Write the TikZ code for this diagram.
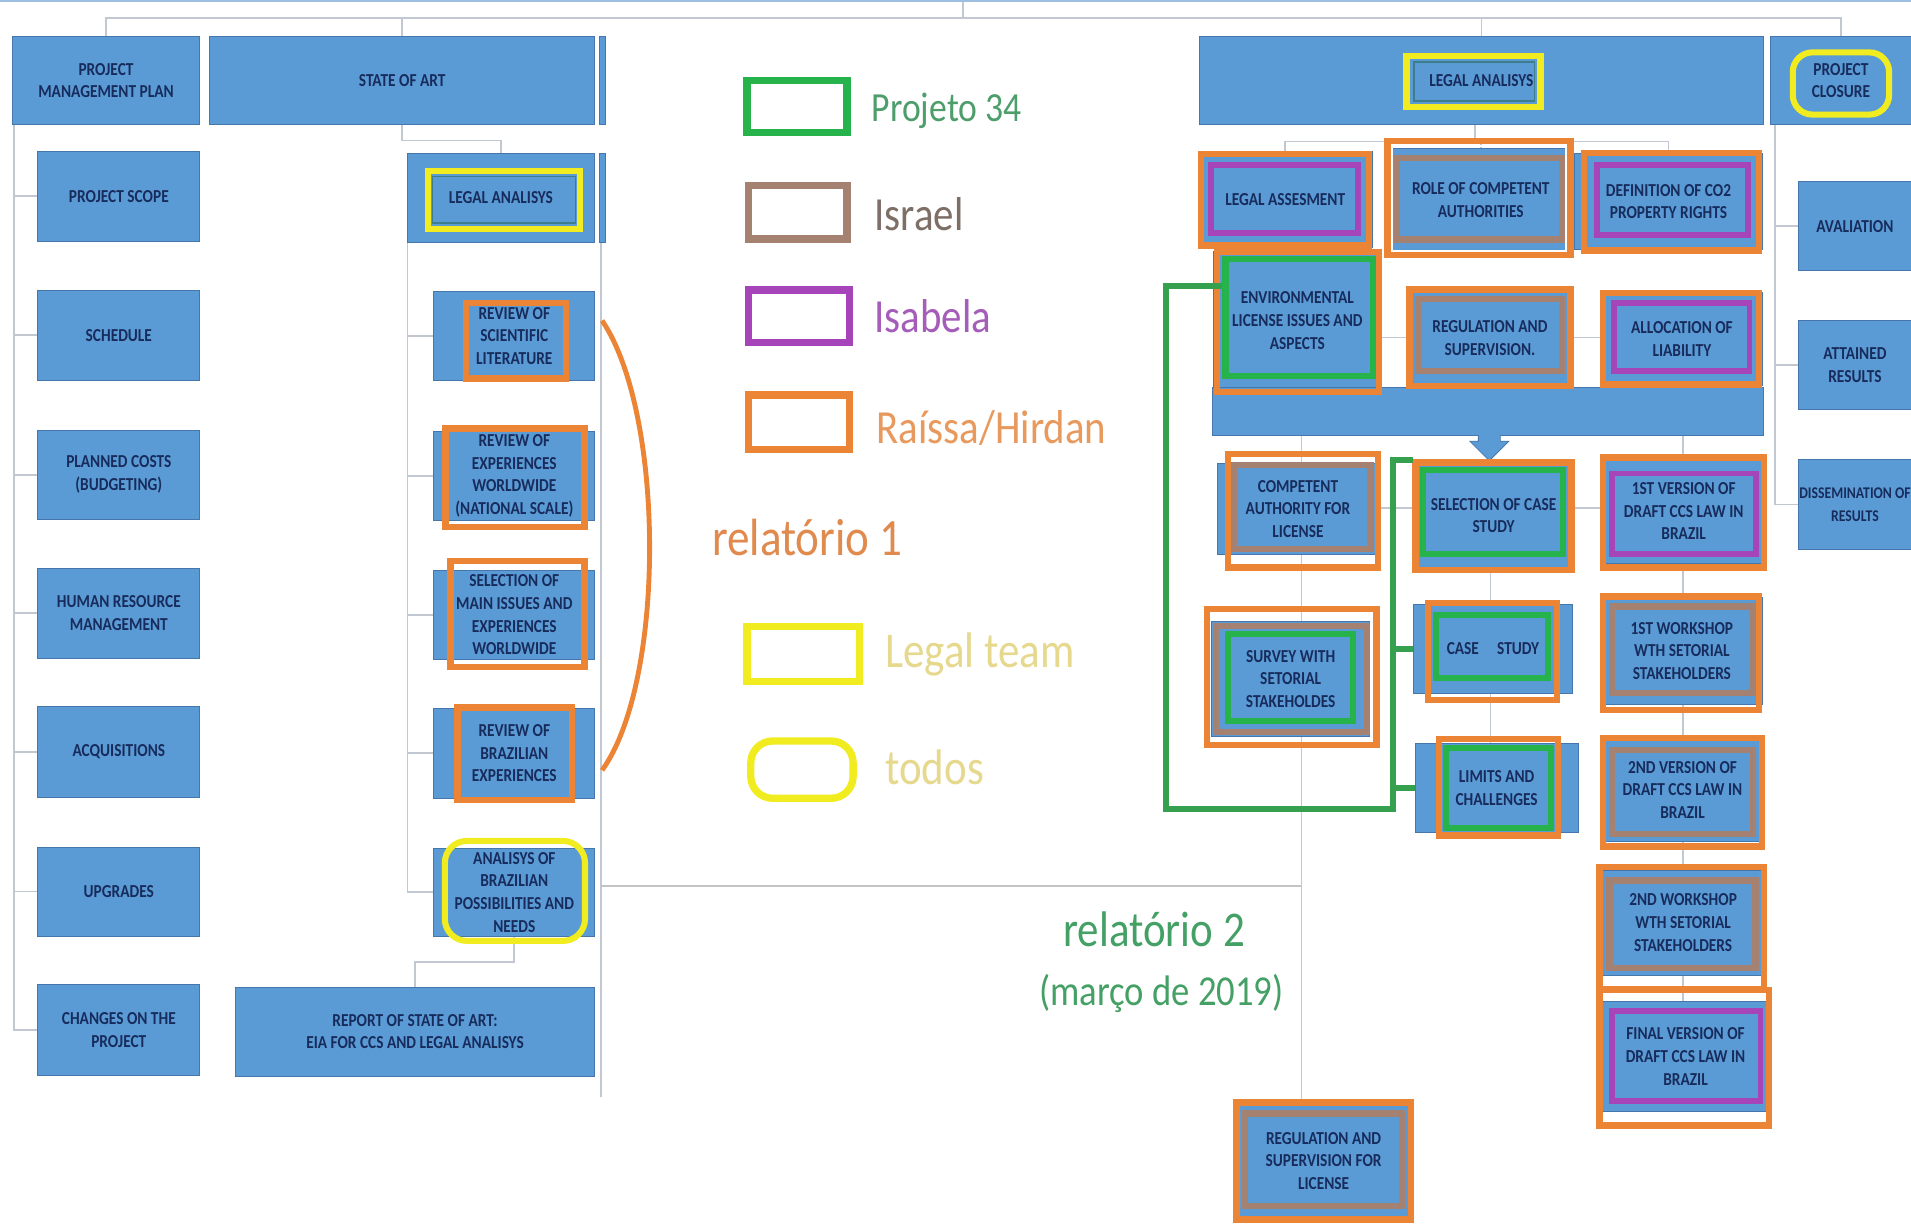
\documentclass[tikz,border=0pt]{standalone}
\usepackage{fontspec}
\setmainfont{Carlito}
\newfontfamily\boxfont[FakeStretch=0.84]{Carlito}
\newfontfamily\legfont[FakeStretch=0.86]{Carlito}
\usetikzlibrary{fit}
\definecolor{boxblue}{HTML}{5B9BD5}
\definecolor{boxedge}{HTML}{4677AC}
\definecolor{boxtext}{HTML}{172C5C}
\definecolor{conngray}{HTML}{C2C8D2}
\definecolor{divgray}{HTML}{C4C4C4}
\definecolor{topblue}{HTML}{9DBEE0}
\definecolor{hlorange}{HTML}{EC8436}
\definecolor{hlgreen}{HTML}{27B34B}
\definecolor{conngreen}{HTML}{35A04D}
\definecolor{hlpurple}{HTML}{A545B9}
\definecolor{hlbrown}{HTML}{A48170}
\definecolor{hlyellow}{HTML}{F0EC20}
\definecolor{innerteal}{HTML}{3E7E8C}
\definecolor{tgreen}{HTML}{4E9E6C}
\definecolor{tbrown}{HTML}{7D6E66}
\definecolor{tpurple}{HTML}{A45DB8}
\definecolor{torange}{HTML}{E89A5E}
\definecolor{torange2}{HTML}{E08A4E}
\definecolor{tyellow}{HTML}{E6D88C}
\definecolor{tgreen2}{HTML}{45A065}
\pgfdeclarelayer{bg}
\pgfdeclarelayer{links}
\pgfsetlayers{bg,links,main}
\newcommand\hlrect[5]{\draw[#1] (#2+2.5,#3+2.5) rectangle (#4-2.5,#5-2.5);}
\newcommand\tshift{0pt}
% box with centred text: name, corners, text
\newcommand\bx[3]{\node[box, fit={#2}] (#1) {};\node[btext] (#1t) at (#1.center) {#3};}
\tikzset{
  box/.style={fill=boxblue, draw=boxedge, line width=0.35pt, inner sep=0pt},
  btext/.style={inner sep=0pt, align=center, text=boxtext, yshift=\tshift, font=\boxfont\bfseries\fontsize{7.5}{9.3}\selectfont},
  conn/.style={draw=conngray, line width=0.7pt},
  divider/.style={draw=divgray, line width=1.1pt},
  gconn/.style={draw=conngreen, line width=2.4pt},
  hlO/.style={draw=hlorange, line width=2.6pt},
  hlG/.style={draw=hlgreen, line width=2.5pt},
  hlP/.style={draw=hlpurple, line width=2.4pt},
  hlB/.style={draw=hlbrown, line width=2.6pt},
  hlY/.style={draw=hlyellow, line width=2.5pt},
  legtext/.style={anchor=base west, inner sep=0pt},
}
\begin{document}
\begin{tikzpicture}[x=0.5pt,y=-0.5pt]
\useasboundingbox (0,0) rectangle (1568,1006);
\begin{pgfonlayer}{bg}
\fill[white] (0,0) rectangle (1568,1006);
\end{pgfonlayer}
\clip (0,0) rectangle (1568,1006);
\draw[topblue, line width=0.8pt] (0,1) -- (1568,1);

% ---------- left: project management plan ----------
\bx{pmp}{(10,30) (164,102)}{PROJECT\\MANAGEMENT PLAN}
\bx{scope}{(31,124) (164,198)}{PROJECT SCOPE}
\bx{sched}{(31,238) (164,312)}{SCHEDULE}
\bx{costs}{(31,353) (164,426)}{PLANNED COSTS\\(BUDGETING)}
\bx{hr}{(31,466) (164,540)}{HUMAN RESOURCE\\MANAGEMENT}
\bx{acq}{(31,580) (164,654)}{ACQUISITIONS}
\bx{upg}{(31,695) (164,768)}{UPGRADES}
\bx{changes}{(31,808) (164,882)}{CHANGES ON THE\\PROJECT}

% ---------- state of art ----------
\bx{soa}{(172,30) (488,102)}{STATE OF ART}
\node[box, fit={(492,30) (497,102)}] (strip1) {};
\bx{lsub}{(334,126) (488,199)}{LEGAL ANALISYS}
\node[box, fit={(492,126) (497,199)}] (strip2) {};
\bx{rsl}{(356,239) (488,312)}{REVIEW OF\\SCIENTIFIC\\LITERATURE}
\bx{rew}{(356,354) (488,427)}{REVIEW OF\\EXPERIENCES\\WORLDWIDE\\(NATIONAL SCALE)}
\bx{smi}{(356,468) (488,541)}{SELECTION OF\\MAIN ISSUES AND\\EXPERIENCES\\WORLDWIDE}
\bx{rbe}{(356,581) (488,655)}{REVIEW OF\\BRAZILIAN\\EXPERIENCES}
\bx{anb}{(356,696) (488,768)}{ANALISYS OF\\BRAZILIAN\\POSSIBILITIES AND\\NEEDS}
\bx{report}{(193,810) (488,883)}{REPORT OF STATE OF ART:\\EIA FOR CCS AND LEGAL ANALISYS}

% ---------- right: legal analysis ----------
\bx{legal}{(984,30) (1447,102)}{LEGAL ANALISYS}
\bx{closure}{(1453,30) (1568,102)}{PROJECT\\CLOSURE}
\bx{aval}{(1476,149) (1568,222)}{AVALIATION}
\bx{att}{(1476,263) (1568,336)}{ATTAINED\\RESULTS}
\node[box, fit={(1476,377) (1568,451)}] (diss) {};
\node[btext, font=\boxfont\bfseries\fontsize{6.7}{9.3}\selectfont] (disst) at (diss.center) {DISSEMINATION OF\\RESULTS};

\bx{legass}{(983,124) (1126,203)}{LEGAL ASSESMENT}
\bx{role}{(1140,122) (1290,206)}{ROLE OF COMPETENT\\AUTHORITIES}
\bx{def}{(1292,126) (1446,205)}{DEFINITION OF CO2\\PROPERTY RIGHTS}
\bx{env}{(996,206) (1133,320)}{ENVIRONMENTAL\\LICENSE ISSUES AND\\ASPECTS}
\bx{regsup}{(1155,237) (1290,318)}{REGULATION AND\\SUPERVISION.}
\bx{alloc}{(1314,240) (1446,316)}{ALLOCATION OF\\LIABILITY}
\node[box, fit={(995,318) (1447,357)}] (bar) {};
\fill[boxblue] (1213,356) -- (1213,362) -- (1206,362) -- (1222,378) -- (1238,362) -- (1231,362) -- (1231,356) -- cycle;
\draw[boxedge, line width=0.35pt] (1213,357.5) -- (1213,362) -- (1206,362) -- (1222,378) -- (1238,362) -- (1231,362) -- (1231,357.5);
\bx{comp}{(999,380) (1131,455)}{COMPETENT\\AUTHORITY FOR\\LICENSE}
\bx{sel}{(1160,378) (1291,468)}{SELECTION OF CASE\\STUDY}
\bx{v1}{(1314,377) (1449,462)}{1ST VERSION OF\\DRAFT CCS LAW IN\\BRAZIL}
\bx{surv}{(994,510) (1124,604)}{SURVEY WITH\\SETORIAL\\STAKEHOLDES}
\bx{case}{(1160,496) (1290,569)}{CASE\quad STUDY}
\bx{ws1}{(1314,490) (1446,578)}{1ST WORKSHOP\\WTH SETORIAL\\STAKEHOLDERS}
\bx{limits}{(1161,610) (1295,683)}{LIMITS AND\\CHALLENGES}
\bx{v2}{(1314,606) (1447,690)}{2ND VERSION OF\\DRAFT CCS LAW IN\\BRAZIL}
\bx{ws2}{(1314,714) (1448,800)}{2ND WORKSHOP\\WTH SETORIAL\\STAKEHOLDERS}
\bx{final}{(1314,822) (1452,912)}{FINAL VERSION OF\\DRAFT CCS LAW IN\\BRAZIL}
\bx{reglic}{(1016,906) (1156,999)}{REGULATION AND\\SUPERVISION FOR\\LICENSE}

% ---------- gray connectors ----------
\begin{pgfonlayer}{links}
\coordinate (root) at (790,0);
\coordinate (bus) at (790,15);
\draw[conn] (root) -- (bus);
\draw[conn] (pmp.north) |- (bus) -| (closure.north);
\draw[conn] (soa.north) -- (soa.north |- bus);
\draw[conn] (legal.north) -- (legal.north |- bus);
\foreach \n in {scope,sched,costs,hr,acq,upg,changes}
  \draw[conn] ([xshift=1pt]pmp.south west) |- (\n.west);
\draw[conn] (soa.south) -- ++(0,13) -| (lsub.north);
\foreach \n in {rsl,rew,smi,rbe,anb}
  \draw[conn] ([xshift=0.3pt]lsub.south west) |- (\n.west);
\draw[conn] (anb.south) -- ++(0,21) -| (report.north);
\coordinate (rv1) at (493,199);
\coordinate (rv2) at (493,900);
\draw[conn] (rv1) -- (rv2);
\coordinate (dv) at (493,727);
\coordinate (colA) at (1068,357);
\coordinate (colB) at (1223,357);
\coordinate (colC) at (1381,357);
\draw[divider] (dv) -- (dv -| colA);
\draw[conn] (colA) -- (colA |- reglic.north);
\draw[conn] (colB) -- (colB |- limits.north);
\draw[conn] (colC) -- (colC |- final.north);
\coordinate (row2) at (0,277);
\coordinate (row3) at (0,417);
\draw[conn] (env.east |- row2) -- (alloc.west |- row2);
\draw[conn] (comp.east |- row3) -- (v1.west |- row3);
\coordinate (lbus) at (1210,116);
\draw[conn] (legal.south -| lbus) -- (lbus);
\draw[conn] (legass.north) |- (lbus) -| (def.north);
\draw[conn] (role.north |- lbus) -- (role.north);
\foreach \n in {aval,att,diss}
  \draw[conn] ([xshift=2pt]closure.south west) |- (\n.west);
\end{pgfonlayer}

% ---------- highlights: left ----------
\draw[innerteal, line width=0.6pt] (355,145) rectangle (472,183);
\draw[hlY] (351,140) rectangle (476,188);
\hlrect{hlO}{380}{246}{467}{313}
\hlrect{hlO}{363}{349}{482}{435}
\hlrect{hlO}{367}{458}{482}{550}
\hlrect{hlO}{373}{578}{472}{659}
\draw[hlY, rounded corners=9pt] (365,690) rectangle (480,772);
\draw[hlO, line width=2pt] (494,263) .. controls (546,340) and (546,560) .. (494,632);

% ---------- highlights: right ----------
\draw[innerteal, line width=0.6pt] (1160,51) rectangle (1259,83);
\draw[hlY] (1154,46) rectangle (1264,88);
\draw[hlY, rounded corners=8pt] (1471,43) rectangle (1550,94);

\hlrect{hlO}{983}{124}{1126}{204}
\hlrect{hlP}{991}{133}{1117}{194}
\hlrect{hlO}{1136}{113}{1291}{212}
\draw[white, line width=0.8pt] (1142,120) rectangle (1285,206);
\hlrect{hlB}{1144}{127}{1284}{199}
\hlrect{hlO}{1297}{123}{1446}{208}
\hlrect{hlP}{1308}{133}{1437}{195}
\hlrect{hlO}{996}{204}{1134}{324}
\hlrect{hlG}{1003}{210}{1129}{311}
\hlrect{hlO}{1154}{235}{1291}{319}
\hlrect{hlB}{1161}{243}{1284}{307}
\hlrect{hlO}{1313}{238}{1446}{318}
\hlrect{hlP}{1322}{246}{1438}{307}
\hlrect{hlO}{1005}{370}{1133}{468}
\hlrect{hlB}{1010}{379}{1127}{453}
\hlrect{hlO}{1159}{377}{1292}{470}
\hlrect{hlG}{1165}{383}{1285}{457}
\hlrect{hlO}{1313}{373}{1450}{468}
\hlrect{hlP}{1320}{386}{1443}{457}
\hlrect{hlO}{988}{497}{1132}{614}
\hlrect{hlB}{995}{511}{1124}{603}
\hlrect{hlG}{1005}{518}{1113}{594}
\hlrect{hlO}{1169}{492}{1280}{577}
\hlrect{hlG}{1176}{502}{1273}{559}
\hlrect{hlO}{1313}{487}{1446}{585}
\hlrect{hlB}{1320}{495}{1441}{571}
\hlrect{hlO}{1178}{604}{1281}{688}
\hlrect{hlG}{1184}{611}{1275}{682}
\hlrect{hlO}{1313}{603}{1448}{697}
\hlrect{hlB}{1320}{613}{1441}{687}
\hlrect{hlO}{1310}{709}{1450}{814}
\hlrect{hlB}{1318}{720}{1443}{797}
\hlrect{hlO}{1310}{810}{1454}{926}
\hlrect{hlP}{1320}{827}{1447}{906}
\hlrect{hlO}{1012}{902}{1160}{1003}
\hlrect{hlB}{1019}{911}{1153}{992}

% ---------- green connector ----------
\coordinate (gstart) at (1003,235);
\coordinate (gleft) at (957,664);
\coordinate (gbus) at (1143,664);
\draw[gconn] (gstart) -| (gleft) -- (gbus) |- (sel.north west);
\draw[gconn] (gbus |- case.west) -- (case.west);
\draw[gconn] (gbus |- limits.west) -- (limits.west);

% ---------- legend ----------
\draw[draw=hlgreen, line width=3pt] (613,66) rectangle (695,109);
\draw[draw=hlbrown, line width=3pt] (614,152) rectangle (695,196);
\draw[draw=hlpurple, line width=3pt] (614,238) rectangle (697,281);
\draw[draw=hlorange, line width=3pt] (614,324) rectangle (697,369);
\draw[draw=hlyellow, line width=3pt] (613,514) rectangle (705,559);
\draw[draw=hlyellow, line width=3pt, rounded corners=9pt] (616,608) rectangle (700,655);

\node[legtext, text=tgreen, font=\legfont\fontsize{17}{20}\selectfont] (lg1) at (715,100) {Projeto 34};
\node[legtext, text=tbrown, font=\legfont\fontsize{19.5}{23}\selectfont] (lg2) at (717,189) {Israel};
\node[legtext, text=tpurple, font=\legfont\fontsize{19.5}{23}\selectfont] (lg3) at (717,273) {Isabela};
\node[legtext, text=torange, font=\legfont\fontsize{19.5}{23}\selectfont] (lg4) at (719,364) {Raíssa/Hirdan};
\node[legtext, text=torange2, font=\legfont\fontsize{21.5}{25}\selectfont] (rel1) at (584,456) {relatório 1};
\node[legtext, text=tyellow, font=\legfont\fontsize{20.5}{24}\selectfont] (lg5) at (726,548) {Legal team};
\node[legtext, text=tyellow, font=\legfont\fontsize{20.5}{24}\selectfont] (lg6) at (726,644) {todos};
\node[anchor=base, inner sep=0pt, text=tgreen2, font=\legfont\fontsize{20.5}{24}\selectfont] (rel2) at (947,777) {relatório 2};
\node[anchor=base, inner sep=0pt, text=tgreen2, font=\legfont\fontsize{17.5}{21}\selectfont] (rel2d) at (953,825) {(março de 2019)};
\end{tikzpicture}
\end{document}
